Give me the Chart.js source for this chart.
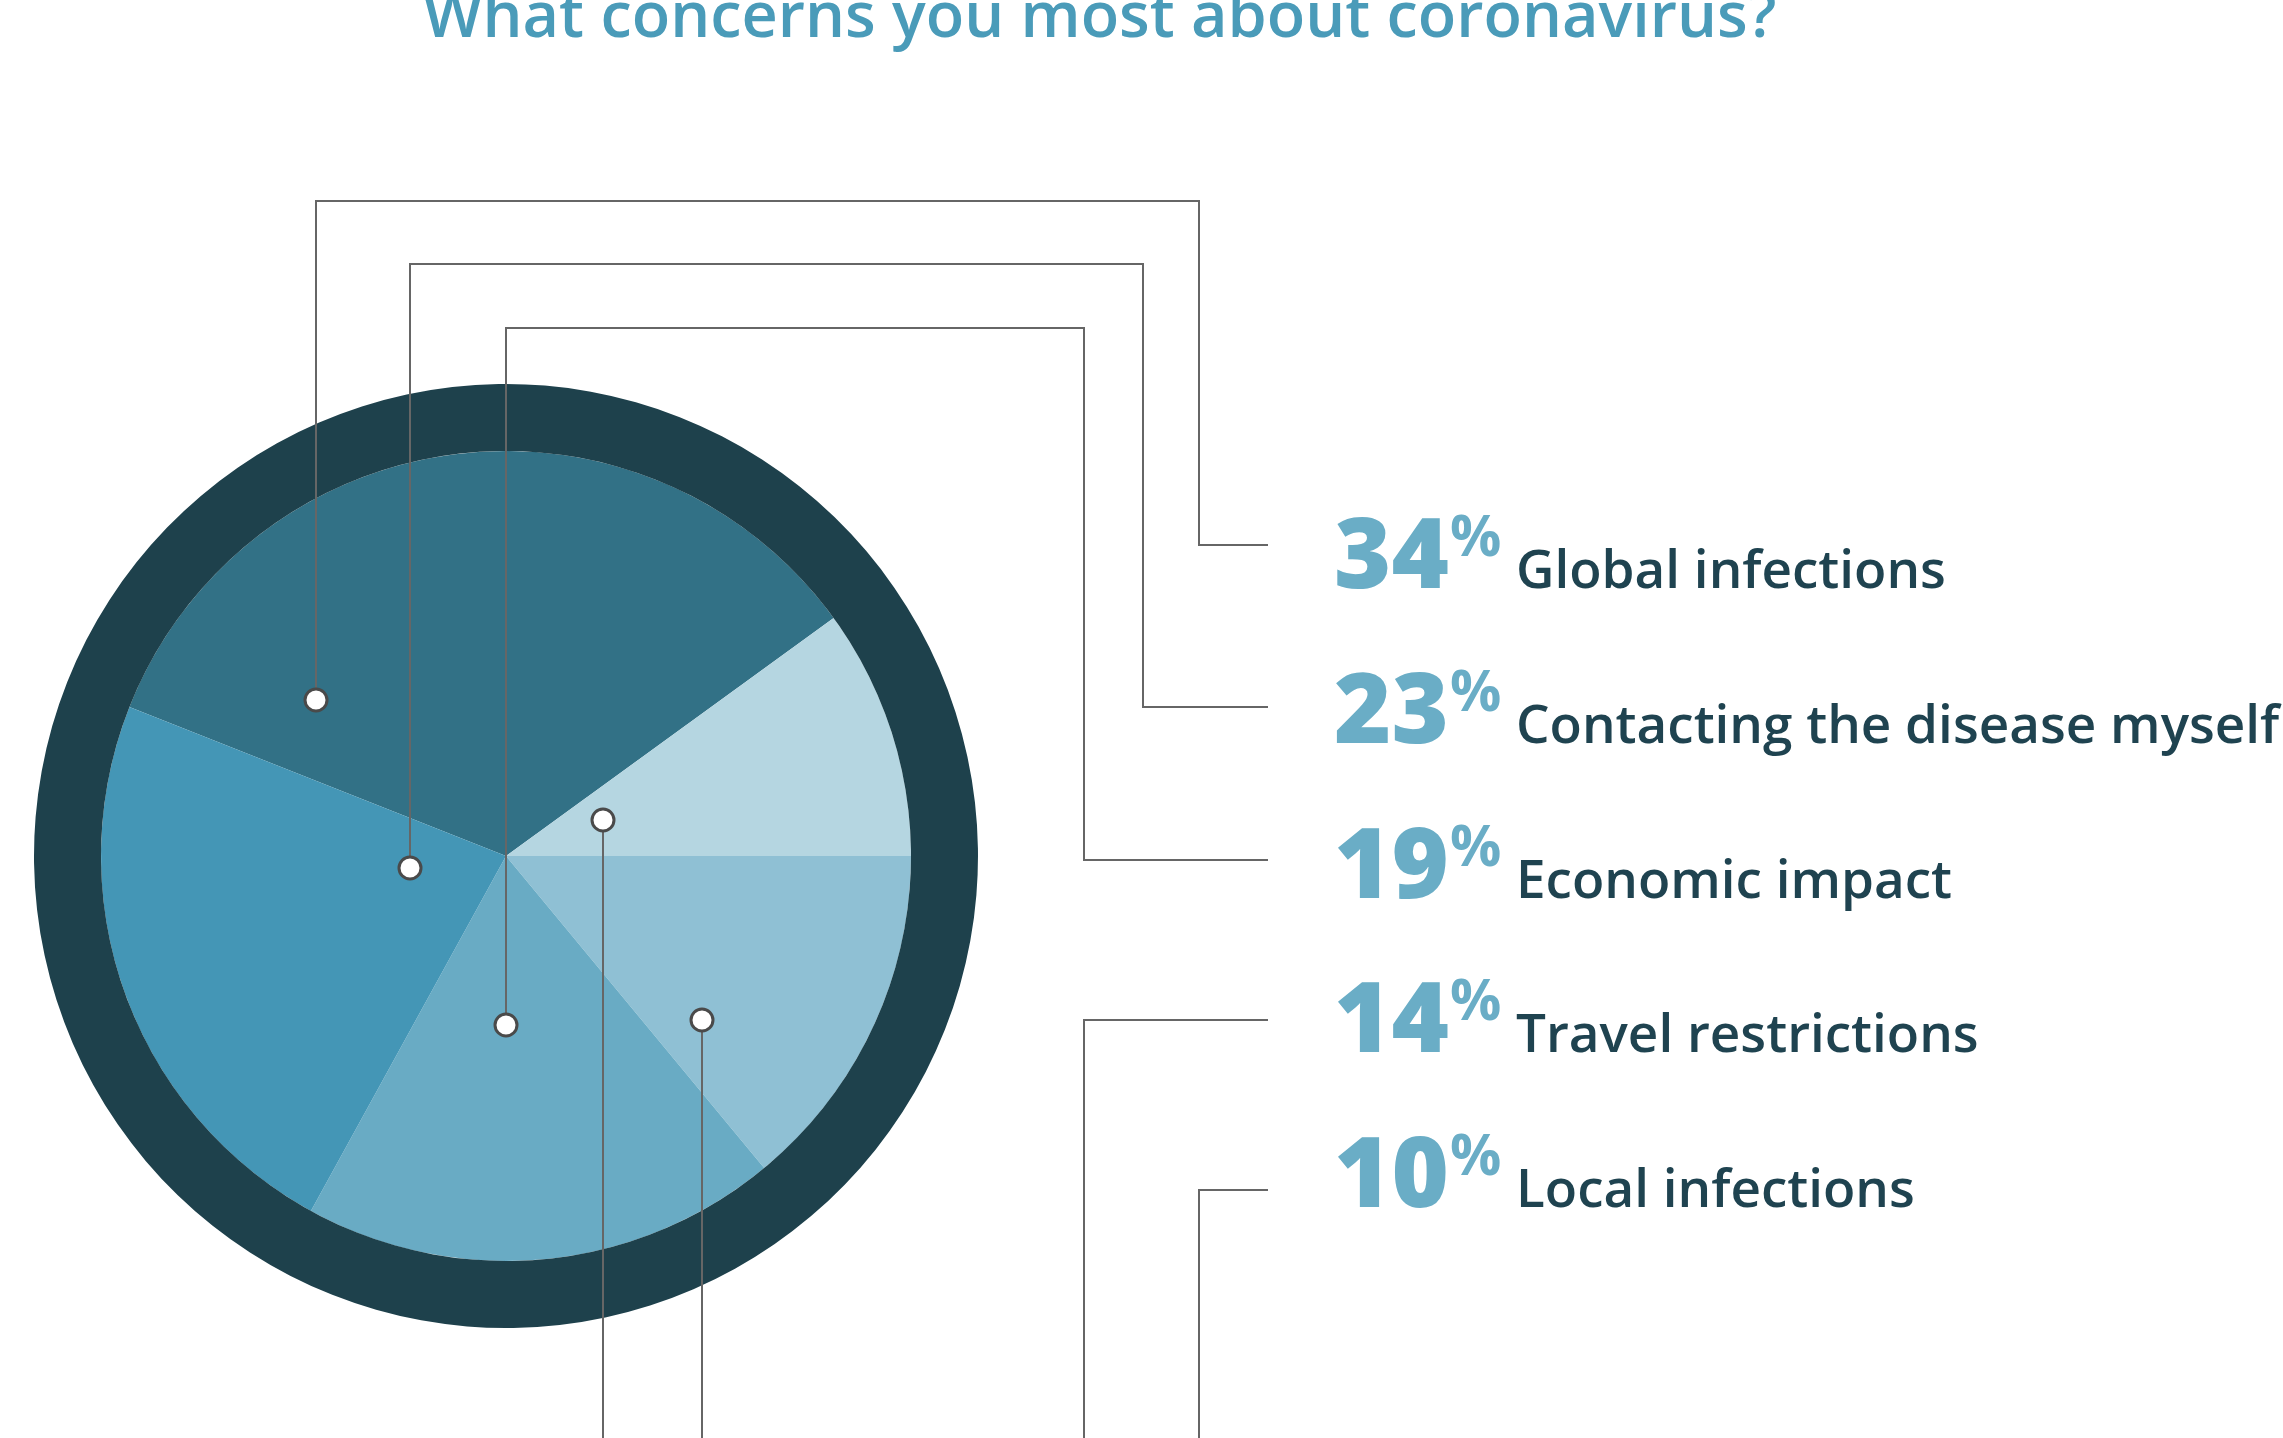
<!DOCTYPE html>
<html>
<head>
<meta charset="utf-8">
<title>What concerns you most about coronavirus?</title>
<script src="https://cdn.jsdelivr.net/npm/chart.js@4.4.1/dist/chart.umd.min.js"></script>
<style>
  html, body { margin: 0; padding: 0; background: #FFFFFF; }
  #wrap { width: 2283px; height: 1438px; position: relative; overflow: hidden; }
</style>
</head>
<body>
<div id="wrap"><canvas id="concernChart" width="2283" height="1438"></canvas></div>
<script>
// ---- data (clockwise order around the pie) ----
const categories = ['Global infections', 'Local infections', 'Travel restrictions', 'Economic impact', 'Contacting the disease myself'];
const shares = [34, 10, 14, 19, 23];
const sliceColors = ['#327186', '#B5D6E1', '#8FC0D4', '#69ABC4', '#4496B6'];
const titleText = 'What concerns you most about coronavirus?';

// ---- callout layout (designer placed, px on the 2283x1438 page) ----
// dx/dy: dot offset from pie centre; turnY: where the lead line turns (null = runs off the bottom)
// elbowX: vertical run on the right; lineY: horizontal run into the label
const callouts = {
  'Global infections':             { dx: -190, dy: -156, turnY: 201,  elbowX: 1199, lineY: 545 },
  'Contacting the disease myself': { dx: -96,  dy: 12,   turnY: 264,  elbowX: 1143, lineY: 707 },
  'Economic impact':               { dx: 0,    dy: 169,  turnY: 328,  elbowX: 1084, lineY: 860 },
  'Local infections':              { dx: 97,   dy: -36,  turnY: null, elbowX: 1199, lineY: 1190 },
  'Travel restrictions':           { dx: 196,  dy: 164,  turnY: null, elbowX: 1084, lineY: 1020 }
};
const labelRowTop = 588;
const labelRowGap = 154.75;
const lineEndX = 1268;

const calloutPlugin = {
  id: 'callouts',
  afterDatasetsDraw(chart) {
    const ctx = chart.ctx;
    const arc = chart.getDatasetMeta(1).data[0];
    const cx = arc.x, cy = arc.y;
    const H = chart.height;

    // title (cropped at the top, as in the source)
    ctx.save();
    ctx.fillStyle = '#4A9BB9';
    ctx.font = '600 63px "Open Sans"';
    ctx.textBaseline = 'alphabetic';
    ctx.textAlign = 'left';
    ctx.fillText(titleText, 423, 37);
    ctx.restore();

    // lead lines
    ctx.save();
    ctx.strokeStyle = '#666666';
    ctx.lineWidth = 2;
    categories.forEach(cat => {
      const c = callouts[cat];
      const x = cx + c.dx, y = cy + c.dy;
      const turn = c.turnY === null ? H + 10 : c.turnY;
      ctx.beginPath();
      if (c.turnY === null) {
        ctx.moveTo(x, y);
        ctx.lineTo(x, turn);
        ctx.moveTo(lineEndX, c.lineY);
        ctx.lineTo(c.elbowX, c.lineY);
        ctx.lineTo(c.elbowX, turn);
      } else {
        ctx.moveTo(x, y);
        ctx.lineTo(x, turn);
        ctx.lineTo(c.elbowX, turn);
        ctx.lineTo(c.elbowX, c.lineY);
        ctx.lineTo(lineEndX, c.lineY);
      }
      ctx.stroke();
    });
    ctx.restore();

    // dots
    ctx.save();
    categories.forEach(cat => {
      const c = callouts[cat];
      ctx.beginPath();
      ctx.arc(cx + c.dx, cy + c.dy, 11, 0, Math.PI * 2);
      ctx.fillStyle = '#FFFFFF';
      ctx.fill();
      ctx.lineWidth = 3;
      ctx.strokeStyle = '#4A4A4A';
      ctx.stroke();
    });
    ctx.restore();

    // labels, largest share first
    const order = shares.map((v, i) => i).sort((a, b) => shares[b] - shares[a]);
    ctx.save();
    ctx.textBaseline = 'alphabetic';
    ctx.textAlign = 'left';
    order.forEach((idx, row) => {
      const y = labelRowTop + row * labelRowGap;
      ctx.fillStyle = '#6AADC6';
      ctx.font = '800 98px "Open Sans"';
      ctx.fillText(String(shares[idx]), 1334, y);
      ctx.font = '700 57px "Open Sans"';
      ctx.fillText('%', 1450, y - 32);
      ctx.fillStyle = '#1F4350';
      ctx.font = '600 53px "Open Sans"';
      ctx.fillText(categories[idx], 1516, y);
    });
    ctx.restore();
  }
};

new Chart(document.getElementById('concernChart').getContext('2d'), {
  type: 'pie',
  data: {
    labels: categories,
    datasets: [
      {
        label: 'ring',
        data: [100],
        backgroundColor: ['#1E414C'],
        borderWidth: 0,
        weight: 67
      },
      {
        label: 'Share of respondents',
        data: shares,
        backgroundColor: sliceColors,
        borderWidth: 0,
        weight: 405
      }
    ]
  },
  options: {
    responsive: false,
    animation: false,
    events: [],
    rotation: -68.4,
    hoverOffset: 0,
    layout: {
      padding: { left: 34, top: 384, right: 1305, bottom: 110 }
    },
    plugins: {
      legend: { display: false },
      tooltip: { enabled: false },
      title: { display: false }
    }
  },
  plugins: [calloutPlugin]
});
</script>
</body>
</html>
